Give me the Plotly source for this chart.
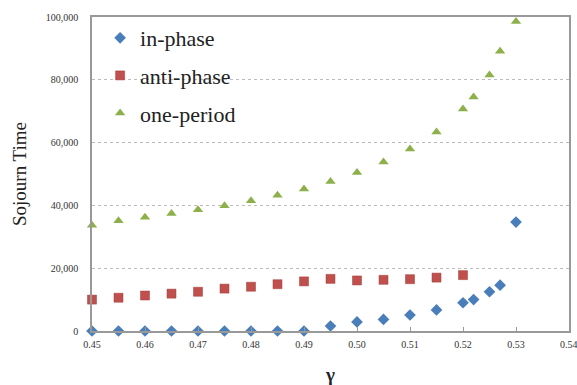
import plotly.graph_objects as go

# gamma values
gamma_in = [0.45, 0.455, 0.46, 0.465, 0.47, 0.475, 0.48, 0.485, 0.49, 0.495, 0.50, 0.505,
            0.51, 0.515, 0.52, 0.522, 0.525, 0.527, 0.53]
in_phase = [0, 0, 0, 0, 0, 0, 0, 0, 0, 1600, 2900, 3700,
            5100, 6700, 9000, 10000, 12500, 14600, 34700]

gamma_anti = [0.45, 0.455, 0.46, 0.465, 0.47, 0.475, 0.48, 0.485, 0.49, 0.495, 0.50, 0.505,
              0.51, 0.515, 0.52]
anti_phase = [10000, 10600, 11300, 11900, 12500, 13500, 14100, 14900, 15800, 16600, 16100, 16300,
              16500, 17000, 17800]

gamma_one = [0.45, 0.455, 0.46, 0.465, 0.47, 0.475, 0.48, 0.485, 0.49, 0.495, 0.50, 0.505,
             0.51, 0.515, 0.52, 0.522, 0.525, 0.527, 0.53]
one_period = [33700, 35100, 36200, 37400, 38600, 39900, 41500, 43200, 45200, 47600, 50500, 53800,
              58000, 63400, 70700, 74500, 81500, 89100, 98600]

x_ticks = [0.45, 0.46, 0.47, 0.48, 0.49, 0.50, 0.51, 0.52, 0.53, 0.54]
y_ticks = [0, 20000, 40000, 60000, 80000, 100000]

SERIF = "Times New Roman, Liberation Serif, DejaVu Serif, serif"

fig = go.Figure()
fig.add_trace(go.Scatter(x=gamma_in, y=in_phase, mode="markers", name="in-phase",
                         legendgroup="a",
                         marker=dict(symbol="diamond", size=9, color="#4A7EBB"),
                         cliponaxis=False))
fig.add_trace(go.Scatter(x=gamma_anti, y=anti_phase, mode="markers", name="anti-phase",
                         legendgroup="b",
                         marker=dict(symbol="square", size=9, color="#C0504D",
                                     line=dict(color="#A33A37", width=0.5)),
                         cliponaxis=False))
fig.add_trace(go.Scatter(x=gamma_one, y=one_period, mode="markers", name="one-period",
                         legendgroup="c",
                         marker=dict(symbol="triangle-up", size=9, color="#8DB04A"),
                         cliponaxis=False))

fig.update_layout(
    width=577, height=385,
    margin=dict(l=92, r=8, t=17, b=54),
    paper_bgcolor="white", plot_bgcolor="white",
    font=dict(family=SERIF, color="#222"),
    showlegend=True,
    legend=dict(x=0.017, y=1.0, xanchor="left", yanchor="top",
                font=dict(family=SERIF, size=22, color="#222"),
                bgcolor="rgba(0,0,0,0)", tracegroupgap=6, traceorder="grouped"),
    xaxis=dict(range=[0.45, 0.54], tickvals=x_ticks, tickformat=".2f",
               showgrid=False, zeroline=False, automargin=False,
               showline=True, linecolor="#999", linewidth=1.5, mirror=True,
               ticks="inside", ticklen=4, tickcolor="#999", ticklabelstandoff=3,
               tickfont=dict(family=SERIF, size=10, color="#333"),
               title=dict(text="<b>γ</b>", font=dict(family=SERIF, size=19, color="#222"),
                          standoff=20)),
    yaxis=dict(range=[0, 100000], tickvals=y_ticks, tickformat=",",
               showgrid=True, gridcolor="#bbb", griddash="dot", gridwidth=1,
               zeroline=False, automargin=False,
               showline=True, linecolor="#999", linewidth=1.5, mirror=True,
               ticks="", ticklabelstandoff=10,
               tickfont=dict(family=SERIF, size=10, color="#333"),
               title=dict(text="Sojourn Time", font=dict(family=SERIF, size=19, color="#222"),
                          standoff=14)),
    annotations=[dict(x=x_ticks[-1], y=0, xref="x", yref="paper", text="0.54",
                      showarrow=False, yanchor="top", yshift=-6,
                      font=dict(family=SERIF, size=10, color="#333"))],
)

fig.write_html("out.html", config={"displayModeBar": False},
               post_script="document.body.style.margin='0';document.body.style.overflow='hidden';")
